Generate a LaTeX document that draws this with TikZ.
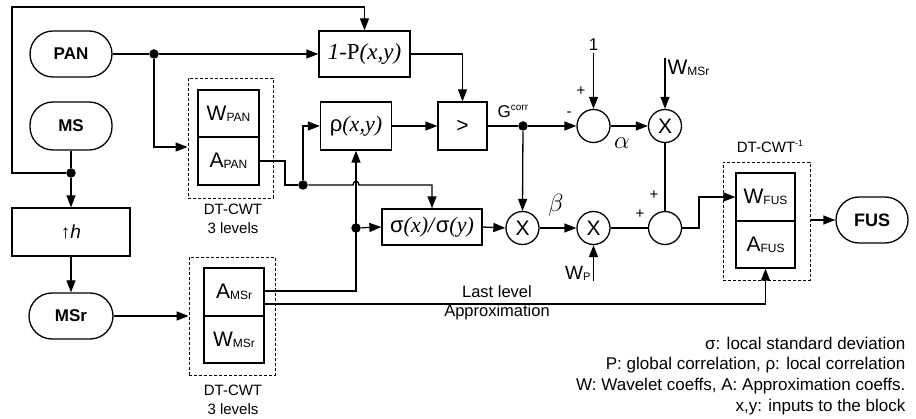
\documentclass[tikz,border=0pt]{standalone}
\usepackage{fontspec}
\setmainfont{Liberation Sans}
\newfontfamily\tms{Liberation Serif}
\usetikzlibrary{arrows.meta}
\newcommand\fsz[1]{\fontsize{#1}{#1}\selectfont}
\newcommand\wsub[4]{{\fsz{#3}#1}{\fsz{#4}\raisebox{-0.8pt}{#2}}}
\begin{document}
\begin{tikzpicture}[x=1pt,y=-1pt, line width=1.3pt,
  arr/.style={-{Triangle[length=12pt,width=9pt]}},
  blk/.style={draw, inner sep=0pt, align=center},
  term/.style={draw, rounded corners=23pt, inner sep=0pt, font=\fsz{17}\bfseries},
  cir/.style={draw, circle, minimum size=33pt, inner sep=0pt, font=\fsz{21}},
  dashbox/.style={draw, dash pattern=on 3pt off 2pt, line width=0.9pt, inner sep=0pt},
  dot/.style={circle, fill, inner sep=0pt, minimum size=9.5pt},
  lbl/.style={inner sep=0pt, font=\fontsize{15}{19}\selectfont, align=center},
  sgn/.style={inner sep=0pt, font=\fsz{15}},
  leg/.style={inner sep=0pt, anchor=east, font=\fsz{17}}]

\useasboundingbox (0,0) rectangle (916,419);

% left column
\node[term, minimum width=82pt, minimum height=46pt] (pan) at (71,54) {PAN};
\node[term, minimum width=82pt, minimum height=48pt] (ms) at (71,126) {MS};
\node[blk, minimum width=118pt, minimum height=48pt, font=\fsz{19}] (uph) at (71,232) {↑\textit{h}};
\node[term, minimum width=84pt, minimum height=46pt] (msr) at (71,316) {MSr};

% DT-CWT of PAN
\node[dashbox, minimum width=85pt, minimum height=120pt] (dpan) at (230.5,138) {};
\node[blk, minimum width=61pt, minimum height=47pt] (wpan) at (228.5,113.5) {\wsub{W}{PAN}{21}{12}};
\node[blk, minimum width=61pt, minimum height=48pt] (apan) at (228.5,161) {\wsub{A}{PAN}{21}{12}};
\node[lbl] (lpan) at (233,218.5) {DT-CWT\\3 levels};

% DT-CWT of MSr
\node[dashbox, minimum width=86pt, minimum height=118pt] (dmsr) at (232,316) {};
\node[blk, minimum width=60pt, minimum height=48pt] (amsr) at (234,292) {\wsub{A}{MSr}{21}{12}};
\node[blk, minimum width=60pt, minimum height=47pt] (wmsr) at (234,339.5) {\wsub{W}{MSr}{21}{12}};
\node[lbl] (lmsr) at (233,400) {DT-CWT\\3 levels};

% processing blocks
\node[blk, minimum width=91pt, minimum height=46pt] (onep) at (364.5,54) {\tms\fsz{23}\textit{1}-P\textit{(x,y)}};
\node[blk, minimum width=71pt, minimum height=48pt] (rho) at (356,126) {\fsz{22}ρ{\tms\textit{(x,y)}}};
\node[blk, minimum width=49pt, minimum height=48pt, font=\fsz{21}] (gt) at (462.5,126) {>};
\node[blk, minimum width=100pt, minimum height=36pt] (sig) at (432,227) {\fsz{22}σ{\tms\textit{(x)/}}σ{\tms\textit{(y)}}};

% circles
\node[cir] (sum1) at (593.5,126) {};
\node[cir] (mul1) at (665,126) {X};
\node[cir] (mula) at (522.5,228) {X};
\node[cir] (mulb) at (593.5,228) {X};
\node[cir] (sum2) at (665,228) {};

% inverse DT-CWT
\node[dashbox, minimum width=87pt, minimum height=118pt] (dfus) at (766.5,221) {};
\node[blk, minimum width=59pt, minimum height=48pt] (wfus) at (765.5,197) {\wsub{W}{FUS}{21}{12}};
\node[blk, minimum width=59pt, minimum height=47pt] (afus) at (765.5,244.5) {\wsub{A}{FUS}{21}{12}};
\node[lbl] (lfus) at (770,146) {DT-CWT{\fsz{9}\raisebox{6pt}{-1}}};
\node[term, minimum width=72pt, minimum height=46pt, font=\fsz{18}\bfseries] (fus) at (872,220) {FUS};

% junction dots
\node[dot] (dotms) at (71,173) {};
\node[dot] (dotpan) at (154,54) {};
\node[dot] (dota) at (303,185) {};
\node[dot] (dotb) at (356,228) {};
\node[dot] (dotg) at (523,126) {};

% free ends
\coordinate (one) at (593.5,53);
\coordinate (wm) at (665,58);
\coordinate (wp) at (593.5,281);

% connectors
\draw (ms.south) -- (dotms);
\draw[arr] (dotms) -- (uph.north);
\draw[arr] (dotms) -- (12,173) -- (12,7) -| (onep.north);
\draw[arr] (uph.south) -- (msr.north);
\draw[arr] (msr.east) -- (msr.east -| dmsr.west);
\draw (pan.east) -- (dotpan);
\draw[arr] (dotpan) -- (onep.west);
\draw[arr] (dotpan) |- (dpan.west |- 0,147);
\draw (apan.east) -- (285,161) -- (285,185) -- (dota);
\draw[arr] (dota) |- (rho.west);
\draw[arr] (dota) -- (353,185) .. controls (353,180) and (359,180) .. (359,185) -| (sig.north);
\draw[arr] (amsr.east |- 0,291) -| (rho.south);
\draw[arr] (dotb) -- (sig.west);
\draw[arr] (amsr.east |- 0,304) -| (afus.south);
\draw[arr] (rho.east) -- (gt.west);
\draw[arr] (onep.east) -| (gt.north);
\draw (gt.east) -- (dotg);
\draw[arr] (dotg) -- (sum1.west);
\draw[arr] (dotg) -- (mula.north);
\draw[arr] (sig.east) -- (mula.west);
\draw[arr] (mula.east) -- (mulb.west);
\draw[arr] (wp) -- (mulb.south);
\draw[arr] (one) -- (sum1.north);
\draw[arr] (sum1.east) -- (mul1.west);
\draw[arr] (wm) -- (mul1.north);
\draw (mul1.south) -- (sum2.north);
\draw (mulb.east) -- (sum2.west);
\draw[arr] (sum2.east) -- (699,228) |- (wfus.west);
\draw[arr] (dfus.east |- fus.west) -- (fus.west);

% labels
\node[inner sep=0pt, anchor=south, font=\fsz{17}] (lone) at (593.5,51) {1};
\node[inner sep=0pt, anchor=west] (lwm) at (667,68) {\wsub{W}{MSr}{21}{12}};
\node[inner sep=0pt, anchor=south east] (lwp) at (591,281) {\wsub{W}{P}{19}{11}};
\node[inner sep=0pt, anchor=south west] (lg) at (497,118) {{\fsz{17}G}{\fsz{10}\raisebox{6.5pt}{corr}}};
\node[sgn] (m1) at (569,114) {-};
\node[sgn] (p1) at (581,91) {+};
\node[sgn] (p2) at (640,214) {+};
\node[sgn] (p3) at (654,195) {+};
\node[inner sep=0pt, font=\fsz{25}] (la) at (622,143) {$\alpha$};
\node[inner sep=0pt, font=\fsz{23}] (lb) at (556,205) {$\beta$};
\node[inner sep=0pt, font=\fsz{16.5}] (ll1) at (497,292) {Last level};
\node[inner sep=0pt, font=\fsz{16.5}] (ll2) at (497,312) {Approximation};

% legend
\node[leg] (g1) at (906,343) {σ: local standard deviation};
\node[leg] (g2) at (906,365) {P: global correlation, ρ: local correlation};
\node[leg] (g3) at (906,386) {W: Wavelet coeffs, A: Approximation coeffs.};
\node[leg] (g4) at (906,407) {x,y: inputs to the block};
\end{tikzpicture}
\end{document}
